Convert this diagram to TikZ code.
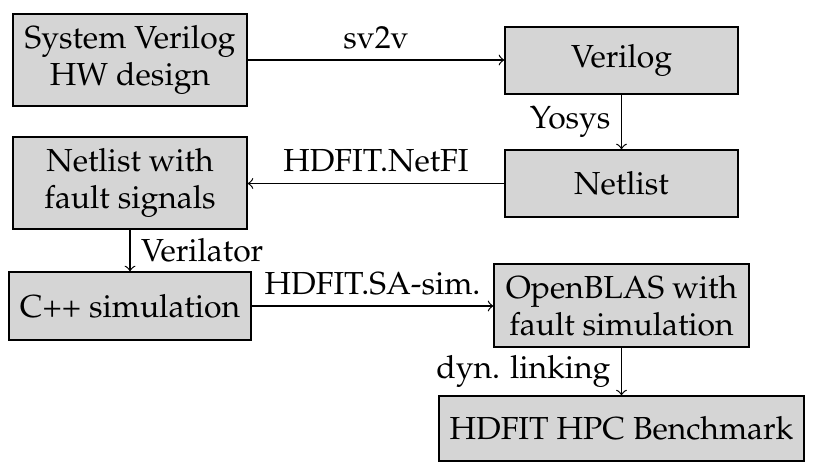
\documentclass[tikz,border=0pt]{standalone}
\usepackage[T1]{fontenc}
\usepackage{mathpazo}
\begin{document}
\begin{tikzpicture}[x=0.3247pt,y=-0.3247pt,
  box/.style={draw, fill=gray!33, align=center, inner sep=0pt, font=\fontsize{10.35}{12}\selectfont},
  lbl/.style={font=\fontsize{10.35}{12}\selectfont, inner sep=3.4pt},
  conn/.style={->}]
\useasboundingbox (0,0) rectangle (822,476);
\node[box, minimum width=76.0pt, minimum height=29.9pt] (sv) at (130,60) {System Verilog\\HW design};
\node[box, minimum width=75.7pt, minimum height=21.8pt] (ver) at (621.5,60.5) {Verilog};
\node[box, minimum width=75.7pt, minimum height=21.8pt] (net) at (621.5,183.5) {Netlist};
\node[box, minimum width=76.0pt, minimum height=29.9pt] (nfs) at (130,183) {Netlist with\\fault signals};
\node[box, minimum width=78.6pt, minimum height=22.1pt] (cpp) at (130,306) {C++ simulation};
\node[box, minimum width=82.8pt, minimum height=27.0pt] (ob) at (621.5,305.5) {OpenBLAS with\\fault simulation};
\node[box, minimum width=118.5pt, minimum height=21.1pt] (hpc) at (621.5,428.5) {HDFIT HPC Benchmark};
\draw[conn] (sv.east |- 0,60) -- node[lbl, above] {sv2v} (ver.west |- 0,60);
\draw[conn] (ver.south) -- node[lbl, left] {Yosys} (net.north);
\draw[conn] (net.west) -- node[lbl, above] {HDFIT.NetFI} (nfs.east |- net.west);
\draw[conn] (nfs.south) -- node[lbl, right] {Verilator} (cpp.north);
\draw[conn] (cpp.east) -- node[lbl, above] {HDFIT.SA-sim.} (ob.west |- cpp.east);
\draw[conn] (ob.south) -- node[lbl, left] {dyn. linking} (hpc.north);
\end{tikzpicture}
\end{document}
